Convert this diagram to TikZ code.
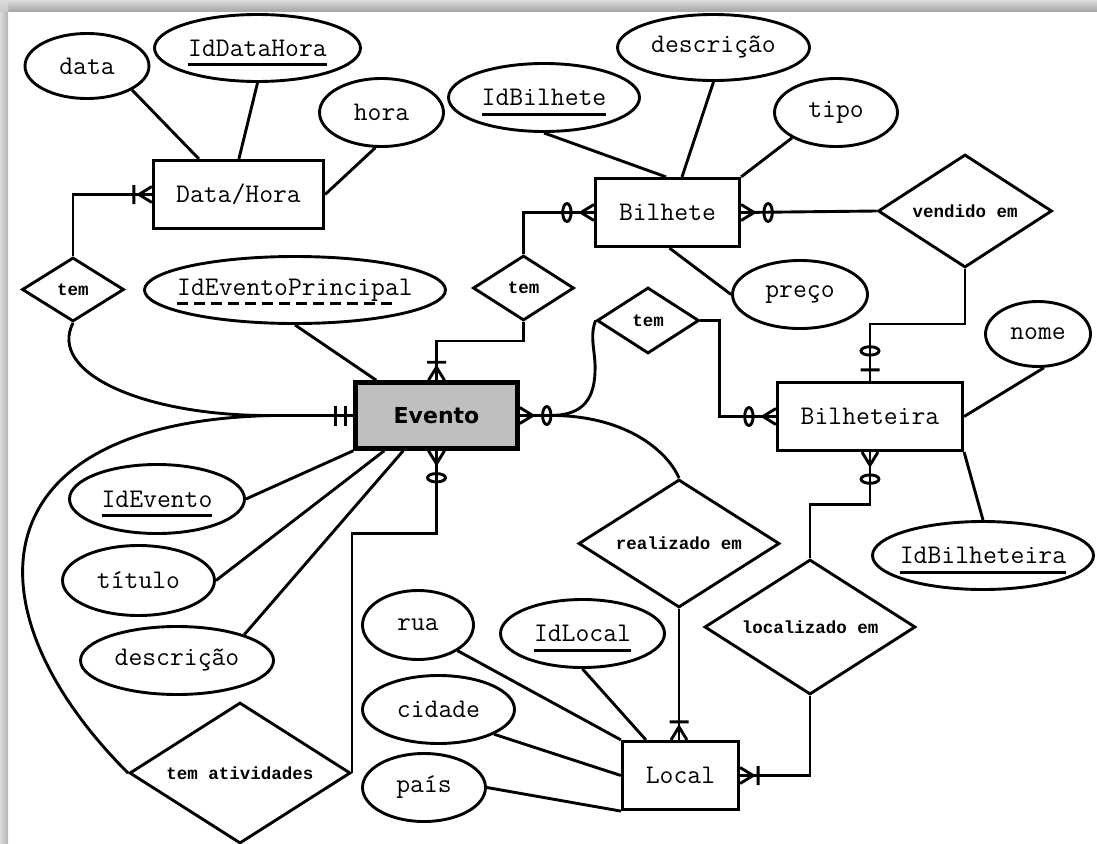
\documentclass[tikz,border=0pt]{standalone}
\usepackage{fontspec}
\newfontfamily\relfont{Liberation Mono}
\newfontfamily\entfont{DejaVu Sans}
\usetikzlibrary{shapes.geometric}

% text sizes
\newcommand{\attrsize}{\fontsize{26.9pt}{30pt}\selectfont}
\newcommand{\relsize}{\fontsize{17.5pt}{20pt}\selectfont}
% zero-width text so that shapes keep their given size
\newcommand{\zw}[1]{\makebox[0pt][c]{#1}}
% primary key: solid underline
\newcommand{\pkey}[1]{\makebox[0pt][c]{\setbox0=\hbox{#1}\rlap{\smash{\rule[-10pt]{\wd0}{2.9pt}}}\box0}}
% derived key: dashed underline
\newcommand{\dkey}[1]{\makebox[0pt][c]{\setbox0=\hbox{#1}\rlap{\smash{\raisebox{-10pt}{\hbox to \wd0{\leaders\hbox to 17pt{\rule{11pt}{2.9pt}\hfil}\hfill}}}}\box0}}

\tikzset{
  conn/.style={line width=2.9pt},
  sz/.style 2 args={minimum width=#1pt, minimum height=#2pt},
  entity/.style={draw, rectangle, line width=3.2pt, fill=white, inner sep=0pt, font=\attrsize\ttfamily},
  attr/.style={draw, ellipse, line width=2.9pt, fill=white, inner sep=0pt, font=\attrsize\ttfamily},
  rel/.style={draw, diamond, line width=2.9pt, fill=white, inner sep=0pt, font=\relsize\relfont\bfseries},
  onemany/.pic={\draw[conn, line join=round] (0,-8)--(13,0)--(0,8) (18,-9.5)--(18,9.5);},
  zeromany/.pic={\draw[conn, line join=round] (0,-8)--(13,0)--(0,8) (27,0) ellipse [x radius=4.2, y radius=9];},
  zeroone/.pic={\draw[conn] (11,-9.5)--(11,9.5) (30,0) ellipse [x radius=4.2, y radius=9];},
  oneonly/.pic={\draw[conn] (8,-10)--(8,10) (18,-10)--(18,10);},
}

\begin{document}
\begin{tikzpicture}[x=1pt, y=-1pt]
\useasboundingbox (0,0) rectangle (1097,843);
\fill[white] (0,0) rectangle (1097,843);
% drop shadow along the top and left edges
\shade[top color=black!14, bottom color=black!36] (0,0) rectangle (1097,12);
\shade[left color=black!14, right color=black!30] (0,12) rectangle (8,843);
\shade[top color=black!14, bottom color=black!22] (0,0) rectangle (8,12);

% entities
\node[entity, sz={170}{68}] (dh) at (238.5,194.5) {\zw{Data/Hora}};
\node[entity, sz={144}{68}] (bil) at (667.5,212.5) {\zw{Bilhete}};
\node[entity, sz={162}{66}, line width=4.5pt, fill=black!25,
      font=\fontsize{22pt}{26pt}\selectfont\entfont\bfseries] (ev) at (436.5,415.5) {\zw{Evento}};
\node[entity, sz={185}{68}] (bth) at (870,416.5) {\zw{Bilheteira}};
\node[entity, sz={116}{68}] (loc) at (680.5,775.5) {\zw{Local}};

% attributes
\node[attr, sz={124}{65}] (data) at (87,66) {\zw{data}};
\node[attr, sz={206}{67}] (idh) at (257.5,48) {\pkey{IdDataHora}};
\node[attr, sz={124}{68}] (hora) at (381.5,112.5) {\zw{hora}};
\node[attr, sz={191}{68}] (idb) at (544,97.5) {\pkey{IdBilhete}};
\node[attr, sz={192}{66}] (descB) at (713.5,47.5) {\zw{descrição}};
\node[attr, sz={123}{68}] (tipo) at (836,112.5) {\zw{tipo}};
\node[attr, sz={135}{68}] (preco) at (800,294.5) {\zw{preço}};
\node[attr, sz={301}{67}] (iep) at (295,290) {\dkey{IdEventoPrincipal}};
\node[attr, sz={105}{65}] (nome) at (1038,334) {\zw{nome}};
\node[attr, sz={221}{68}] (idbt) at (983,555.5) {\pkey{IdBilheteira}};
\node[attr, sz={175}{69}] (ide) at (157,499) {\pkey{IdEvento}};
\node[attr, sz={152}{70}] (tit) at (138.5,580.5) {\zw{título}};
\node[attr, sz={193}{68}] (desE) at (177,660.5) {\zw{descrição}};
\node[attr, sz={111}{69}] (rua) at (418,625) {\zw{rua}};
\node[attr, sz={152}{68}] (cid) at (438.5,709.5) {\zw{cidade}};
\node[attr, sz={123}{68}] (pais) at (424,787.5) {\zw{país}};
\node[attr, sz={164}{68}] (idl) at (582.5,633.5) {\pkey{IdLocal}};

% relationships
\node[rel, sz={102}{64}] (temDH) at (73,289.5) {\zw{tem}};
\node[rel, sz={101}{65}] (temBil) at (523.5,288) {\zw{tem}};
\node[rel, sz={102}{66}] (temBth) at (648,320.5) {\zw{tem}};
\node[rel, sz={174}{113}] (vend) at (965,211) {\zw{vendido em}};
\node[rel, sz={201}{128}] (real) at (679,543.5) {\zw{realizado em}};
\node[rel, sz={211}{135}] (locd) at (810,627) {\zw{localizado em}};
\node[rel, sz={221}{141}] (ta) at (240,773) {\zw{tem atividades}};

% attribute links
\draw[conn] (data.-28) -- ([xshift=47pt]dh.north west);
\draw[conn] (idh.south) -- ([xshift=87pt]dh.north west);
\draw[conn] (hora.-100) -- (dh.east);
\draw[conn] (idb.south) -- ([xshift=-1.5pt]bil.north);
\draw[conn] (descB.south) -- ([xshift=14.5pt]bil.north);
\draw[conn] (tipo.210) -- (bil.north east);
\draw[conn] (preco.west) -- ([xshift=2pt]bil.south);
\draw[conn] (iep.south) -- ([xshift=23pt]ev.north west);
\draw[conn] (ide.east) -- (ev.south west);
\draw[conn] (tit.east) -- ([xshift=31pt]ev.south west);
\draw[conn] (desE.21) -- ([xshift=50pt]ev.south west);
\draw[conn] (nome.-80) -- (bth.east);
\draw[conn] (idbt.north) -- (bth.south east);
\draw[conn] (idl.south) -- ([xshift=25pt]loc.north west);
\draw[conn] (rua.-33) -- (loc.north west);
\draw[conn] (cid.-24) -- (loc.west);
\draw[conn] (pais.east) -- (loc.south west);

% relationship links
\draw[conn] (temDH.north) |- (dh.west);
\draw[conn] (temDH.south) .. controls (48,372) and (140,414) .. (262,415.5) -- (ev.west);
\draw[conn] (ev.west) -- (272,415.5) .. controls (-25,422) and (-35,610) .. (ta.west);
\draw[conn] (ta.east) |- ([yshift=-83pt]ev.south) -- (ev.south);
\draw[conn] (temBil.south) -- ++(0,19) -| (ev.north);
\draw[conn] (temBil.north) |- (bil.west);
\draw[conn] (bil.east) -- (vend.west);
\draw[conn] (vend.south) -- ++(0,55) -| (bth.north);
\draw[conn] (temBth.east) -- ++(19,0) |- (bth.west);
\draw[conn] (temBth.west) .. controls (589,338) and (596,352) .. (595,372)
            .. controls (594,404) and (578,415.5) .. (550,415.5) -- (ev.east);
\draw[conn] (ev.east) -- (556,415.5) .. controls (628,417) and (668,452) .. (real.north);
\draw[conn] (real.south) -- (real.south |- loc.north);
\draw[conn] (locd.north) -- ++(0,-54) -| (bth.south);
\draw[conn] (locd.south) |- (loc.east);

% cardinality marks
\pic[rotate=180] at (dh.west) {onemany};
\pic[rotate=180] at (ev.west) {oneonly};
\pic[rotate=-90] at (ev.south) {zeromany};
\pic[rotate=90] at (ev.north) {onemany};
\pic at (ev.east) {zeromany};
\pic[rotate=180] at (bil.west) {zeromany};
\pic at (bil.east) {zeromany};
\pic[rotate=90] at (bth.north) {zeroone};
\pic[rotate=180] at (bth.west) {zeromany};
\pic[rotate=-90] at (bth.south) {zeromany};
\pic[rotate=90] at (real.south |- loc.north) {onemany};
\pic at (loc.east) {onemany};
\end{tikzpicture}
\end{document}
